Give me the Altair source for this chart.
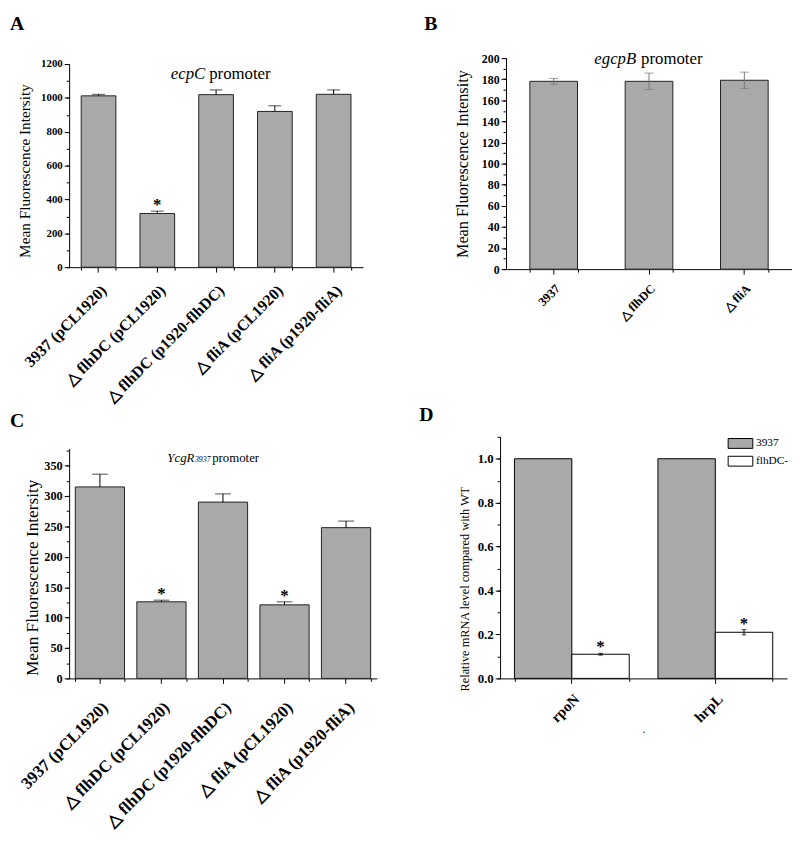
import altair as alt
import pandas as pd

FONT = "Liberation Serif"
GRAY = "#a9a9a9"

# ---------------- data ----------------
a_cats = ["3937 (pCL1920)", "△ flhDC (pCL1920)", "△ flhDC (p1920-flhDC)",
          "△ fliA (pCL1920)", "△ fliA (p1920-fliA)"]
a_vals = [1012, 317, 1019, 920, 1021]
a_errs = [9, 14, 28, 33, 26]
a_star = ["", "*", "", "", ""]
a_major = [0, 200, 400, 600, 800, 1000, 1200]
a_minor = [0, 100, 200, 300, 400, 500, 600, 700, 800, 900, 1000, 1100, 1200]

b_cats = ["3937", "△ flhDC", "△ fliA"]
b_vals = [178, 178, 179]
b_errs = [2.8, 7.8, 7.7]
b_major = [0, 20, 40, 60, 80, 100, 120, 140, 160, 180, 200]
b_minor = [0, 10, 20, 30, 40, 50, 60, 70, 80, 90, 100, 110, 120, 130, 140,
           150, 160, 170, 180, 190, 200]

c_cats = a_cats
c_vals = [315, 126, 290, 121, 248]
c_errs = [21, 2.7, 13.5, 4.9, 10.8]
c_star = ["", "*", "", "*", ""]
c_major = [0, 50, 100, 150, 200, 250, 300, 350]
c_minor = [0, 25, 50, 75, 100, 125, 150, 175, 200, 225, 250, 275, 300, 325, 350, 375]

d_genes = ["rpoN", "hrpL"]
d_strains = ["3937", "flhDC-"]
d_wt = [1.0, 1.0]
d_mut = [0.11, 0.21]
d_mut_err = [0.004, 0.012]
d_star = ["*", "*"]
d_major = [0.0, 0.2, 0.4, 0.6, 0.8, 1.0]
d_minor = [0.0, 0.1, 0.2, 0.3, 0.4, 0.5, 0.6, 0.7, 0.8, 0.9, 1.0, 1.1]

panel_letters = ["A", "B", "C", "D"]


def one(**kw):
    return pd.DataFrame([kw])


def text_layer(txt, x, y, size, weight="normal", style="normal", align="left",
               baseline="middle"):
    return alt.Chart(one(t=txt)).mark_text(
        font=FONT, fontSize=size, fontWeight=weight, fontStyle=style,
        align=align, baseline=baseline, color="black"
    ).encode(text="t:N", x=alt.value(x), y=alt.value(y))


def anchor_layer(x, y):
    return alt.Chart(one(t=0)).mark_rule(opacity=0, strokeWidth=0.1).encode(
        x=alt.value(x), x2=alt.value(x + 1), y=alt.value(y))


def main_axes(label_size, label_pad, ytitle, ytitle_size, ytick_size, ytitle_x,
              ytitle_y, ymajor, yfmt):
    xa = alt.Axis(title=None, labelAngle=-45, labelFont=FONT, labelFontSize=label_size,
                  labelFontWeight="bold", labelColor="black", labelPadding=label_pad,
                  labelOverlap=False, labelLimit=500, tickSize=5, tickColor="black",
                  domainColor="black", grid=False, orient="bottom")
    ya = alt.Axis(title=ytitle, titleFont=FONT, titleFontSize=ytitle_size,
                  titleFontWeight="normal", titleColor="black", titleX=ytitle_x,
                  titleY=ytitle_y, values=ymajor, format=yfmt, labelFont=FONT,
                  labelFontSize=ytick_size, labelFontWeight="bold", labelColor="black",
                  labelPadding=2, tickSize=5, tickColor="black", domainColor="black",
                  grid=False, orient="left")
    return xa, ya


def minor_axes(yminor):
    xa = alt.Axis(title=None, labels=False, domain=False, tickBand="extent", tickSize=3,
                  tickColor="black", grid=False, orient="bottom")
    ya = alt.Axis(title=None, labels=False, domain=False, values=yminor, tickSize=3,
                  tickColor="black", grid=False, orient="left")
    return xa, ya


def bar_panel(cats, vals, errs, stars, width, height, top_off, ymax, pad, major, minor,
              yfmt, label_size, label_pad, ytitle, ytitle_size, ytick_size, ytitle_x,
              ytitle_y, cap, err_color, both_sides, extra):
    df = pd.DataFrame({"cat": cats, "val": vals, "err": errs})
    df["hi"] = df["val"] + df["err"]
    df["lo"] = df["val"] - df["err"] if both_sides else df["val"]
    df["star"] = stars if stars is not None else [""] * len(cats)
    xs = alt.Scale(paddingInner=pad, paddingOuter=pad / 2)
    ys = alt.Scale(domain=[0, ymax], nice=False, zero=True, range=[height, top_off])
    xa, ya = main_axes(label_size, label_pad, ytitle, ytitle_size, ytick_size,
                       ytitle_x, ytitle_y, major, yfmt)
    mxa, mya = minor_axes(minor)
    base = alt.Chart(df)
    bars = base.mark_bar(fill=GRAY, stroke="#222222", strokeWidth=1).encode(
        x=alt.X("cat:N", sort=cats, scale=xs, axis=xa),
        y=alt.Y("val:Q", scale=ys, axis=ya))
    minor_l = base.mark_bar(opacity=0).encode(
        x=alt.X("cat:N", sort=cats, scale=xs, axis=mxa),
        y=alt.Y("val:Q", scale=ys, axis=mya))
    err = base.mark_rule(color=err_color, strokeWidth=1).encode(
        x=alt.X("cat:N", sort=cats, scale=xs, axis=None),
        y=alt.Y("lo:Q", scale=ys, axis=None), y2="hi:Q")
    caps_hi = base.mark_tick(color=err_color, thickness=1, size=cap).encode(
        x=alt.X("cat:N", sort=cats, scale=xs, axis=None),
        y=alt.Y("hi:Q", scale=ys, axis=None))
    layers = [bars, minor_l, err, caps_hi]
    if both_sides:
        layers.append(base.mark_tick(color=err_color, thickness=1, size=cap).encode(
            x=alt.X("cat:N", sort=cats, scale=xs, axis=None),
            y=alt.Y("lo:Q", scale=ys, axis=None)))
    if stars is not None:
        layers.append(base.mark_text(font=FONT, fontSize=17, fontWeight="bold",
                                     baseline="alphabetic", dy=-1, color="black").encode(
            x=alt.X("cat:N", sort=cats, scale=xs, axis=None),
            y=alt.Y("hi:Q", scale=ys, axis=None), text="star:N"))
    layers += extra
    return alt.layer(*layers).resolve_axis(x="independent", y="independent").properties(
        width=width, height=height)


# ---------------- panel A ----------------
chart_a = bar_panel(
    a_cats, a_vals, a_errs, a_star, 298, 212, 6, 1200, 0.41, a_major, a_minor, "d",
    16, 10, "Mean Fluorescence Intersity", 15.5, 11, -37, 114, 13, "black", False,
    [text_layer(panel_letters[0], -60, -45, 20, weight="bold", baseline="top"),
     text_layer("ecpC", 138, 16, 17, style="italic", align="right"),
     text_layer("promoter", 142, 16, 17, align="left"),
     anchor_layer(-60, 350.2)])

# ---------------- panel B ----------------
chart_b = bar_panel(
    b_cats, b_vals, b_errs, None, 290, 214, 0, 200, 0.5, b_major, b_minor, "d",
    12.5, 8, "Mean Fluorescence Intensity", 16.5, 12, -36, 107, 9, "#777777", True,
    [text_layer(panel_letters[1], -83, -45, 20, weight="bold", baseline="top"),
     text_layer("egcpB", 132, 1, 17, style="italic", align="right"),
     text_layer("promoter", 137, 1, 17, align="left")])

# ---------------- panel C ----------------
chart_c = bar_panel(
    c_cats, c_vals, c_errs, c_star, 312, 245, 12, 378, 0.2, c_major, c_minor, "d",
    17, 16, "Mean Fluorescence Intersity", 17.5, 12.5, -28, 142.5, 16, "black", False,
    [text_layer(panel_letters[2], -60, -25.8, 20, weight="bold", baseline="top"),
     text_layer("YcgR", 127, 22, 13, style="italic", align="right"),
     text_layer("3937", 127.5, 24, 8, style="italic", align="left"),
     text_layer("promoter", 145, 22, 13, align="left")])

# ---------------- panel D ----------------
d_rows = []
for g, w in zip(d_genes, d_wt):
    d_rows.append({"gene": g, "strain": d_strains[0], "val": w, "err": 0.0, "star": ""})
for g, m, e, s in zip(d_genes, d_mut, d_mut_err, d_star):
    d_rows.append({"gene": g, "strain": d_strains[1], "val": m, "err": e, "star": s})
d_df = pd.DataFrame(d_rows)
d_df["lo"] = d_df["val"] - d_df["err"]
d_df["hi"] = d_df["val"] + d_df["err"]
d_err_df = d_df[d_df["strain"] == d_strains[1]]

dxs = alt.Scale(paddingInner=0.2, paddingOuter=0.1)
dys = alt.Scale(domain=[0, 1.1], nice=False, zero=True)
dos = alt.Scale(domain=d_strains, paddingInner=0, paddingOuter=0)
d_xa = alt.Axis(title=".", titleFont=FONT, titleFontSize=8, titleColor="black",
                titlePadding=2, labelAngle=-45, labelFont=FONT, labelFontSize=15,
                labelFontWeight="bold", labelColor="black", labelPadding=8,
                labelOverlap=False, tickSize=5, tickColor="black", domainColor="black",
                grid=False, orient="bottom")
d_ya = alt.Axis(title="Relative mRNA level compared with WT", titleFont=FONT,
                titleFontSize=12.5, titleFontWeight="normal", titleColor="black",
                titleX=-29, titleY=154, values=d_major, format=".1f", labelFont=FONT,
                labelFontSize=13, labelFontWeight="bold", labelColor="black",
                labelPadding=2, tickSize=5, tickColor="black", domainColor="black",
                grid=False, orient="left")
d_mxa, d_mya = minor_axes(d_minor)

d_base = alt.Chart(d_df)
d_bars = d_base.mark_bar(stroke="black", strokeWidth=1).encode(
    x=alt.X("gene:N", sort=d_genes, scale=dxs, axis=d_xa),
    xOffset=alt.XOffset("strain:N", sort=d_strains, scale=dos),
    y=alt.Y("val:Q", scale=dys, axis=d_ya),
    fill=alt.Fill("strain:N", sort=d_strains,
                  scale=alt.Scale(domain=d_strains, range=[GRAY, "#ffffff"]),
                  legend=alt.Legend(title=None, orient="none", legendX=238, legendY=1,
                                    symbolType="M-2.5,-1H2.5V1H-2.5Z", symbolSize=100,
                                    symbolStrokeColor="black", symbolStrokeWidth=1,
                                    symbolOpacity=1, labelFont=FONT, labelFontSize=11.5,
                                    labelColor="black", labelOffset=10, rowPadding=3,
                                    padding=0)))
d_minor_l = d_base.mark_bar(opacity=0).encode(
    x=alt.X("gene:N", sort=d_genes, scale=dxs, axis=d_mxa),
    y=alt.Y("val:Q", scale=dys, axis=d_mya))
d_eb = alt.Chart(d_err_df)
d_err = d_eb.mark_rule(color="black", strokeWidth=1).encode(
    x=alt.X("gene:N", sort=d_genes, scale=dxs, axis=None),
    xOffset=alt.XOffset("strain:N", sort=d_strains, scale=dos),
    y=alt.Y("lo:Q", scale=dys, axis=None), y2="hi:Q")
d_cap_hi = d_eb.mark_tick(color="black", thickness=1, size=5).encode(
    x=alt.X("gene:N", sort=d_genes, scale=dxs, axis=None),
    xOffset=alt.XOffset("strain:N", sort=d_strains, scale=dos),
    y=alt.Y("hi:Q", scale=dys, axis=None))
d_cap_lo = d_eb.mark_tick(color="black", thickness=1, size=5).encode(
    x=alt.X("gene:N", sort=d_genes, scale=dxs, axis=None),
    xOffset=alt.XOffset("strain:N", sort=d_strains, scale=dos),
    y=alt.Y("lo:Q", scale=dys, axis=None))
d_stars = d_eb.mark_text(font=FONT, fontSize=17, fontWeight="bold",
                         baseline="alphabetic", dy=-1, color="black").encode(
    x=alt.X("gene:N", sort=d_genes, scale=dxs, axis=None),
    xOffset=alt.XOffset("strain:N", sort=d_strains, scale=dos),
    y=alt.Y("hi:Q", scale=dys, axis=None), text="star:N")

chart_d = alt.layer(
    d_bars, d_minor_l, d_err, d_cap_hi, d_cap_lo, d_stars,
    text_layer(panel_letters[3], -82, -31.8, 20, weight="bold", baseline="top"),
).resolve_axis(x="independent", y="independent").properties(width=291, height=245)

top = alt.hconcat(chart_a, chart_b, spacing=62).resolve_scale(fill="independent")
bottom = alt.hconcat(chart_c, chart_d, spacing=43).resolve_scale(fill="independent")
chart = alt.vconcat(top, bottom, spacing=0).resolve_scale(fill="independent").properties(
    padding={"left": 2, "top": 0, "right": 0, "bottom": 0}, background="white"
).configure_view(stroke=None)

chart.save("out.html", embed_options={"renderer": "svg", "actions": False})
